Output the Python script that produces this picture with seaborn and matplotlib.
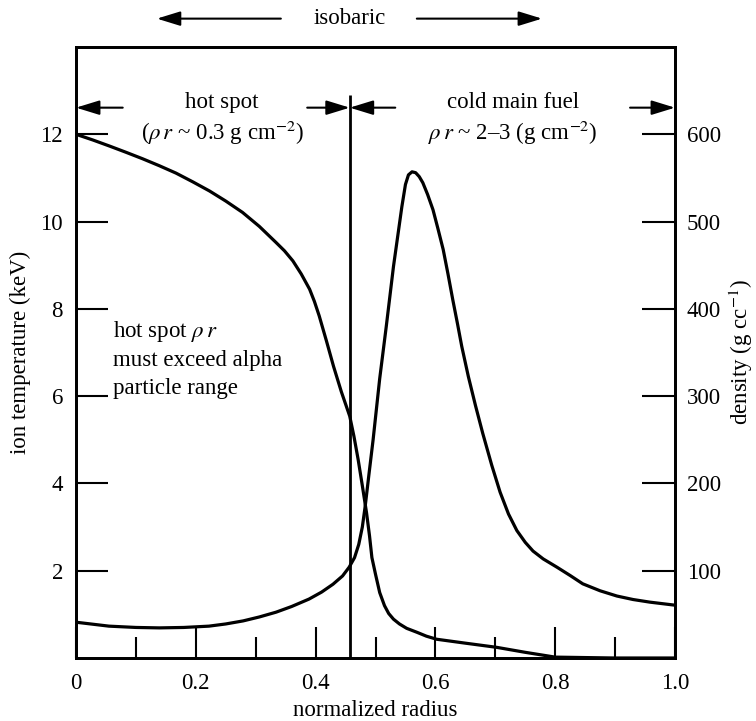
import numpy as np
import pandas as pd
import matplotlib
matplotlib.use("Agg")
import matplotlib.pyplot as plt
import seaborn as sns

# ---------------- data ----------------
radius_T = [0.0, 0.028, 0.056, 0.083, 0.111, 0.139, 0.167, 0.195, 0.223, 0.250,
            0.278, 0.306, 0.334, 0.348, 0.362, 0.376, 0.390, 0.398, 0.406, 0.418,
            0.430, 0.443, 0.457, 0.464, 0.471, 0.478, 0.485, 0.490, 0.494, 0.500,
            0.507, 0.515, 0.522, 0.530, 0.540, 0.552, 0.569, 0.585, 0.602, 0.650,
            0.702, 0.750, 0.800, 0.900, 1.0]
temperature_keV = [12.0, 11.87, 11.73, 11.59, 11.44, 11.28, 11.11, 10.91, 10.70, 10.47,
                   10.21, 9.89, 9.52, 9.33, 9.10, 8.80, 8.45, 8.17, 7.84, 7.27,
                   6.68, 6.10, 5.54, 5.08, 4.55, 3.95, 3.33, 2.80, 2.30, 1.92,
                   1.50, 1.20, 1.02, 0.89, 0.78, 0.68, 0.59, 0.50, 0.43, 0.34,
                   0.245, 0.13, 0.02, 0.0, 0.0]

radius_D = [0.0, 0.055, 0.100, 0.139, 0.180, 0.222, 0.250, 0.279, 0.306, 0.334,
            0.360, 0.389, 0.410, 0.429, 0.445, 0.456, 0.465, 0.472, 0.478, 0.483,
            0.489, 0.496, 0.507, 0.518, 0.530, 0.544, 0.550, 0.555, 0.561, 0.567,
            0.573, 0.579, 0.587, 0.596, 0.604, 0.613, 0.621, 0.629, 0.637, 0.644,
            0.655, 0.667, 0.679, 0.694, 0.708, 0.722, 0.736, 0.750, 0.763, 0.780,
            0.803, 0.825, 0.846, 0.875, 0.903, 0.930, 0.958, 1.0]
density_gcc = [41, 36.5, 35, 34.5, 35, 36.5, 39, 42.5, 47, 52.5,
               59, 67.5, 75.5, 84.5, 94, 104, 115, 130, 150, 175,
               210, 250, 320, 380, 448.5, 517, 542.5, 553.5, 557, 556,
               551.5, 544.5, 531, 513.5, 492.5, 468, 440, 410.5, 382.5, 357,
               322.5, 289, 257.5, 221, 190, 165, 146, 132.5, 122.5, 113.5,
               104, 94.5, 85, 77, 71, 67, 64, 60.5]

x_ticks = [0.0, 0.2, 0.4, 0.6, 0.8, 1.0]
x_ticklabels = ["0", "0.2", "0.4", "0.6", "0.8", "1.0"]
x_minor = [0.1, 0.3, 0.5, 0.7, 0.9]
temp_ticks = [2, 4, 6, 8, 10, 12]
dens_ticks = [100, 200, 300, 400, 500, 600]

hotspot_edge = 0.457

# ---------------- style ----------------
sns.set_theme(style="ticks")
plt.rcParams["font.family"] = ["Liberation Serif", "DejaVu Serif"]
plt.rcParams["mathtext.fontset"] = "stix"
FS = 16.5
K = "black"

fig = plt.figure(figsize=(7.56, 7.21), dpi=100)
ax = fig.add_axes([76/756, 1 - 658/721, (675-76)/756, (658-47)/721])
ax2 = ax.twinx()

dfT = pd.DataFrame({"r": radius_T, "T": temperature_keV})
dfD = pd.DataFrame({"r": radius_D, "rho": density_gcc})
sns.lineplot(data=dfT, x="r", y="T", ax=ax, color=K, lw=2.3, sort=False,
             estimator=None, solid_joinstyle="round")
sns.lineplot(data=dfD, x="r", y="rho", ax=ax2, color=K, lw=2.3, sort=False,
             estimator=None, solid_joinstyle="round")

ax.set_xlim(0, 1.0)
ax.set_ylim(0, 14)
ax2.set_ylim(0, 700)

ax.set_xticks(x_ticks)
ax.set_xticklabels(x_ticklabels)
ax.set_xticks(x_minor, minor=True)
ax.set_yticks(temp_ticks)
ax.set_yticklabels([str(t) for t in temp_ticks])
ax2.set_yticks(dens_ticks)
ax2.set_yticklabels([str(t) for t in dens_ticks])

for a in (ax, ax2):
    for s in a.spines.values():
        s.set_linewidth(2.0)
        s.set_color(K)

ax.tick_params(axis="x", which="major", direction="in", length=22.5, width=1.5,
               pad=11, labelsize=FS, colors=K, top=False)
ax.tick_params(axis="x", which="minor", direction="in", length=15, width=1.5,
               colors=K, top=False)
ax.tick_params(axis="y", which="major", direction="in", length=23, width=1.5,
               pad=9.4, labelsize=FS, colors=K, right=False)
ax2.tick_params(axis="y", which="major", direction="in", length=24, width=1.5,
                pad=8.6, labelsize=FS, colors=K, left=False)

ax.set_xlabel("normalized radius", fontsize=FS, color=K, va="center")
ax.xaxis.set_label_coords(0.5, -(710-658)/611)
ax.set_ylabel("ion temperature (keV)", fontsize=FS, color=K, va="center")
ax.yaxis.set_label_coords((20-76)/599, 0.5)
ax2.set_ylabel("density (g cc$^{-1}$)", fontsize=FS, color=K, va="center")
ax2.yaxis.set_label_coords((741-76)/599, 0.5)

# boundary line between hot spot and cold fuel
ax.plot([hotspot_edge, hotspot_edge], [0, 12.9], color=K, lw=2.0, solid_capstyle="butt")

arrow = dict(arrowstyle="-|>,head_length=0.65,head_width=0.2", color=K, lw=1.5,
             mutation_scale=22, shrinkA=0, shrinkB=0)

def arr(x0, x1, y):
    ax.annotate("", xy=(x1, y), xytext=(x0, y), arrowprops=arrow,
                annotation_clip=False)

y_arr = 12.61
arr(0.078, 0.0, y_arr)
arr(0.386, hotspot_edge, y_arr)
arr(0.533, hotspot_edge, y_arr)
arr(0.925, 1.0, y_arr)

y_iso = 14.65
arr(0.342, 0.135, y_iso)
arr(0.569, 0.778, y_iso)
ax.text(hotspot_edge, y_iso, "isobaric", ha="center", va="center", fontsize=FS,
        color=K, clip_on=False)

ax.text(0.244, 12.73, "hot spot", ha="center", va="center", fontsize=FS, color=K)
ax.text(0.244, 12.04, r"($\rho\,r$ ~ 0.3 g cm$^{-2}$)", ha="center", va="center",
        fontsize=FS, color=K)
ax.text(0.729, 12.73, "cold main fuel", ha="center", va="center", fontsize=FS, color=K)
ax.text(0.730, 12.04, r"$\rho\,r$ ~ 2–3 (g cm$^{-2}$)", ha="center", va="center",
        fontsize=FS, color=K)

ax.text(0.062, 6.86, "hot spot $\\rho\\,r$\nmust exceed alpha\nparticle range",
        ha="left", va="center", fontsize=FS, color=K, linespacing=1.4)

fig.savefig("out.png", dpi=100)
